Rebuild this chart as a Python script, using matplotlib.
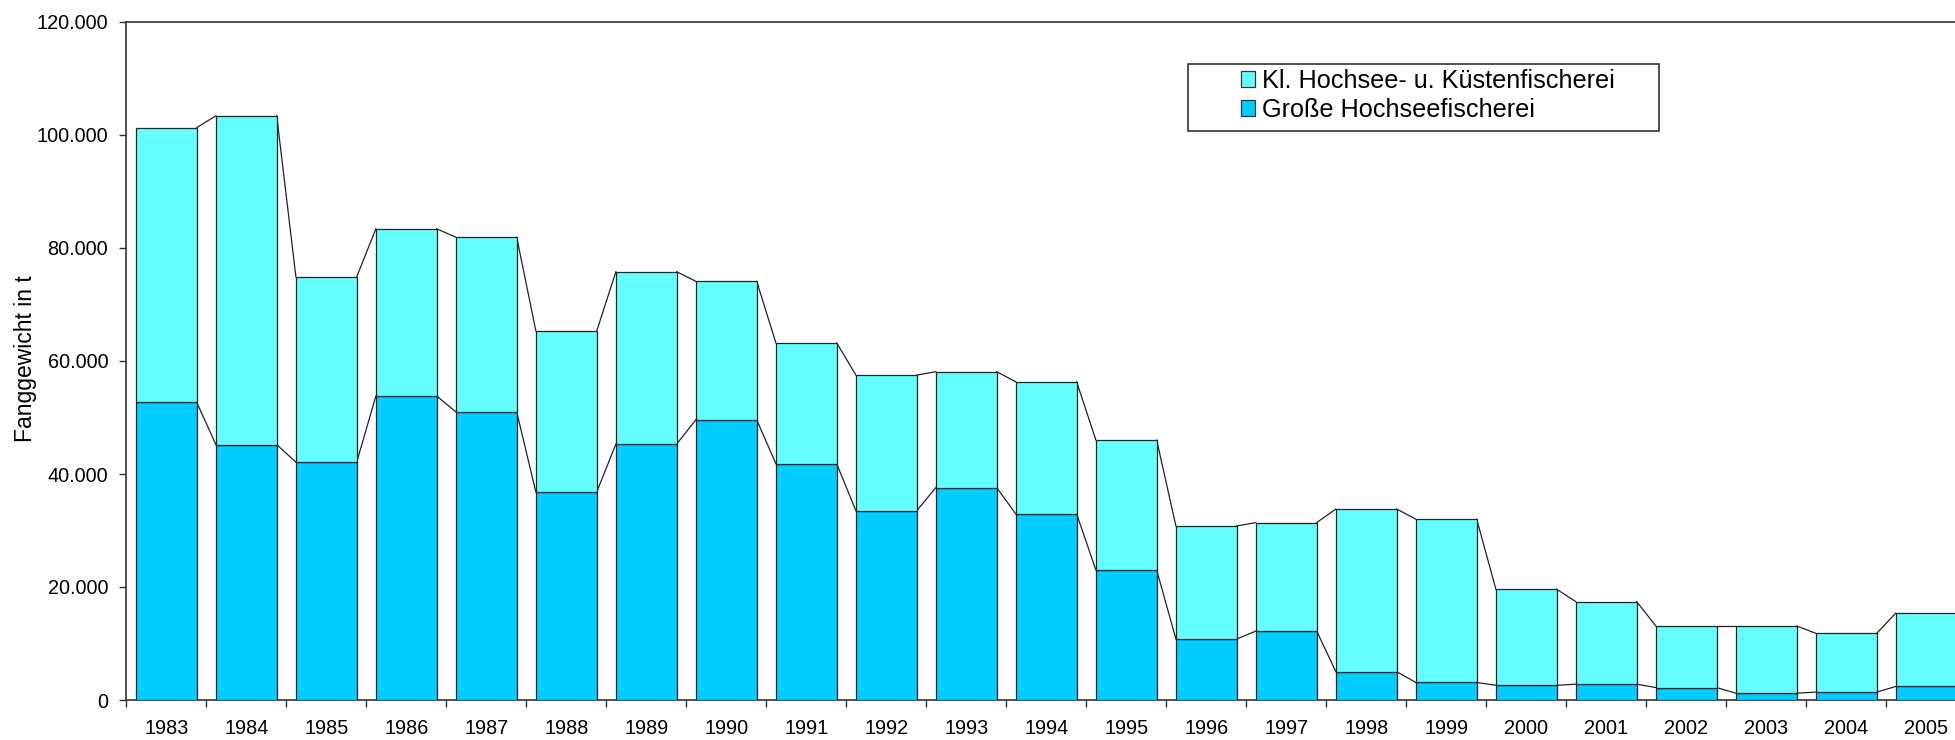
import matplotlib.pyplot as plt
import matplotlib.patches as mpatches
from matplotlib.ticker import FuncFormatter, MultipleLocator
import numpy as np

plt.rcParams['font.family'] = ['Liberation Sans', 'DejaVu Sans']

years = ['1983', '1984', '1985', '1986', '1987', '1988', '1989', '1990',
         '1991', '1992', '1993', '1994', '1995', '1996', '1997', '1998',
         '1999', '2000', '2001', '2002', '2003', '2004', '2005']
# Große Hochseefischerei (t)
grosse = [52700, 45200, 42100, 53800, 51000, 36800, 45300, 49600,
          41800, 33500, 37600, 32900, 23000, 10800, 12200, 5000,
          3100, 2600, 2800, 2200, 1200, 1400, 2400]
# Gesamt (t)
gesamt = [101300, 103400, 74900, 83400, 81900, 65300, 75800, 74100,
          63200, 57500, 58100, 56300, 46000, 30800, 31400, 33800,
          32000, 19600, 17400, 13100, 13100, 11800, 15400]
kleine = [g - b for g, b in zip(gesamt, grosse)]

label_klein = 'Kl. Hochsee- u. Küstenfischerei'
label_gross = 'Große Hochseefischerei'
col_gross = '#00CCFF'
col_klein = '#66FFFF'

fig = plt.figure(figsize=(19.55, 7.40), dpi=100)
ax = fig.add_axes([126.3 / 1955, 40 / 740, 1840 / 1955, 678 / 740])

x = np.arange(len(years))
w = 0.76
ax.bar(x, grosse, width=w, color=col_gross, edgecolor='#222222', linewidth=0.9, zorder=3)
ax.bar(x, kleine, width=w, bottom=grosse, color=col_klein, edgecolor='#222222',
       linewidth=0.9, zorder=3)

# series lines between bars
for i in range(len(years) - 1):
    for s in (grosse, gesamt):
        ax.plot([x[i] + w / 2, x[i + 1] - w / 2], [s[i], s[i + 1]],
                color='#222222', linewidth=0.9, zorder=2)

ax.set_xlim(-0.5, len(years) - 0.5)
ax.set_ylim(0, 120000)
ax.yaxis.set_major_locator(MultipleLocator(20000))
ax.yaxis.set_major_formatter(FuncFormatter(lambda v, p: f'{v:,.0f}'.replace(',', '.')))

ax.set_xticks(x)
ax.set_xticklabels(years)
ax.set_xticks(np.arange(-0.5, len(years)), minor=True)
ax.tick_params(axis='x', which='major', length=0, pad=14, labelsize=14.3)
ax.tick_params(axis='x', which='minor', length=5, width=1, color='#333333', direction='out')
ax.tick_params(axis='y', length=5, width=1, color='#333333', pad=8, labelsize=14.3)

for side in ('left', 'bottom', 'top'):
    ax.spines[side].set_color('#333333')
    ax.spines[side].set_linewidth(1.2)
ax.spines['right'].set_visible(False)

ax.set_ylabel('Fanggewicht in t', fontsize=16.5)
ax.yaxis.set_label_coords(-(126.3 - 36.6) / 1840, (700 - 358.3) / 678)

# legend box
fig.patches.append(mpatches.Rectangle((1188.3 / 1955, 1 - 131 / 740), (1659.3 - 1188.3) / 1955,
                                      (131 - 64.3) / 740, transform=fig.transFigure,
                                      facecolor='white', edgecolor='#333333', linewidth=1.2,
                                      zorder=5))
handles = [mpatches.Patch(facecolor=col_klein, edgecolor='#333333', linewidth=0.9, label=label_klein),
           mpatches.Patch(facecolor=col_gross, edgecolor='#333333', linewidth=0.9, label=label_gross)]
leg = fig.legend(handles=handles, loc='upper left', bbox_to_anchor=(1240.7 / 1955, 1 - 69 / 740),
                 frameon=False, fontsize=18.2, borderpad=0, borderaxespad=0,
                 handlelength=0.58, handleheight=0.58, handletextpad=0.25, labelspacing=0.2)
leg.set_zorder(6)

fig.savefig('out.png', dpi=100)
